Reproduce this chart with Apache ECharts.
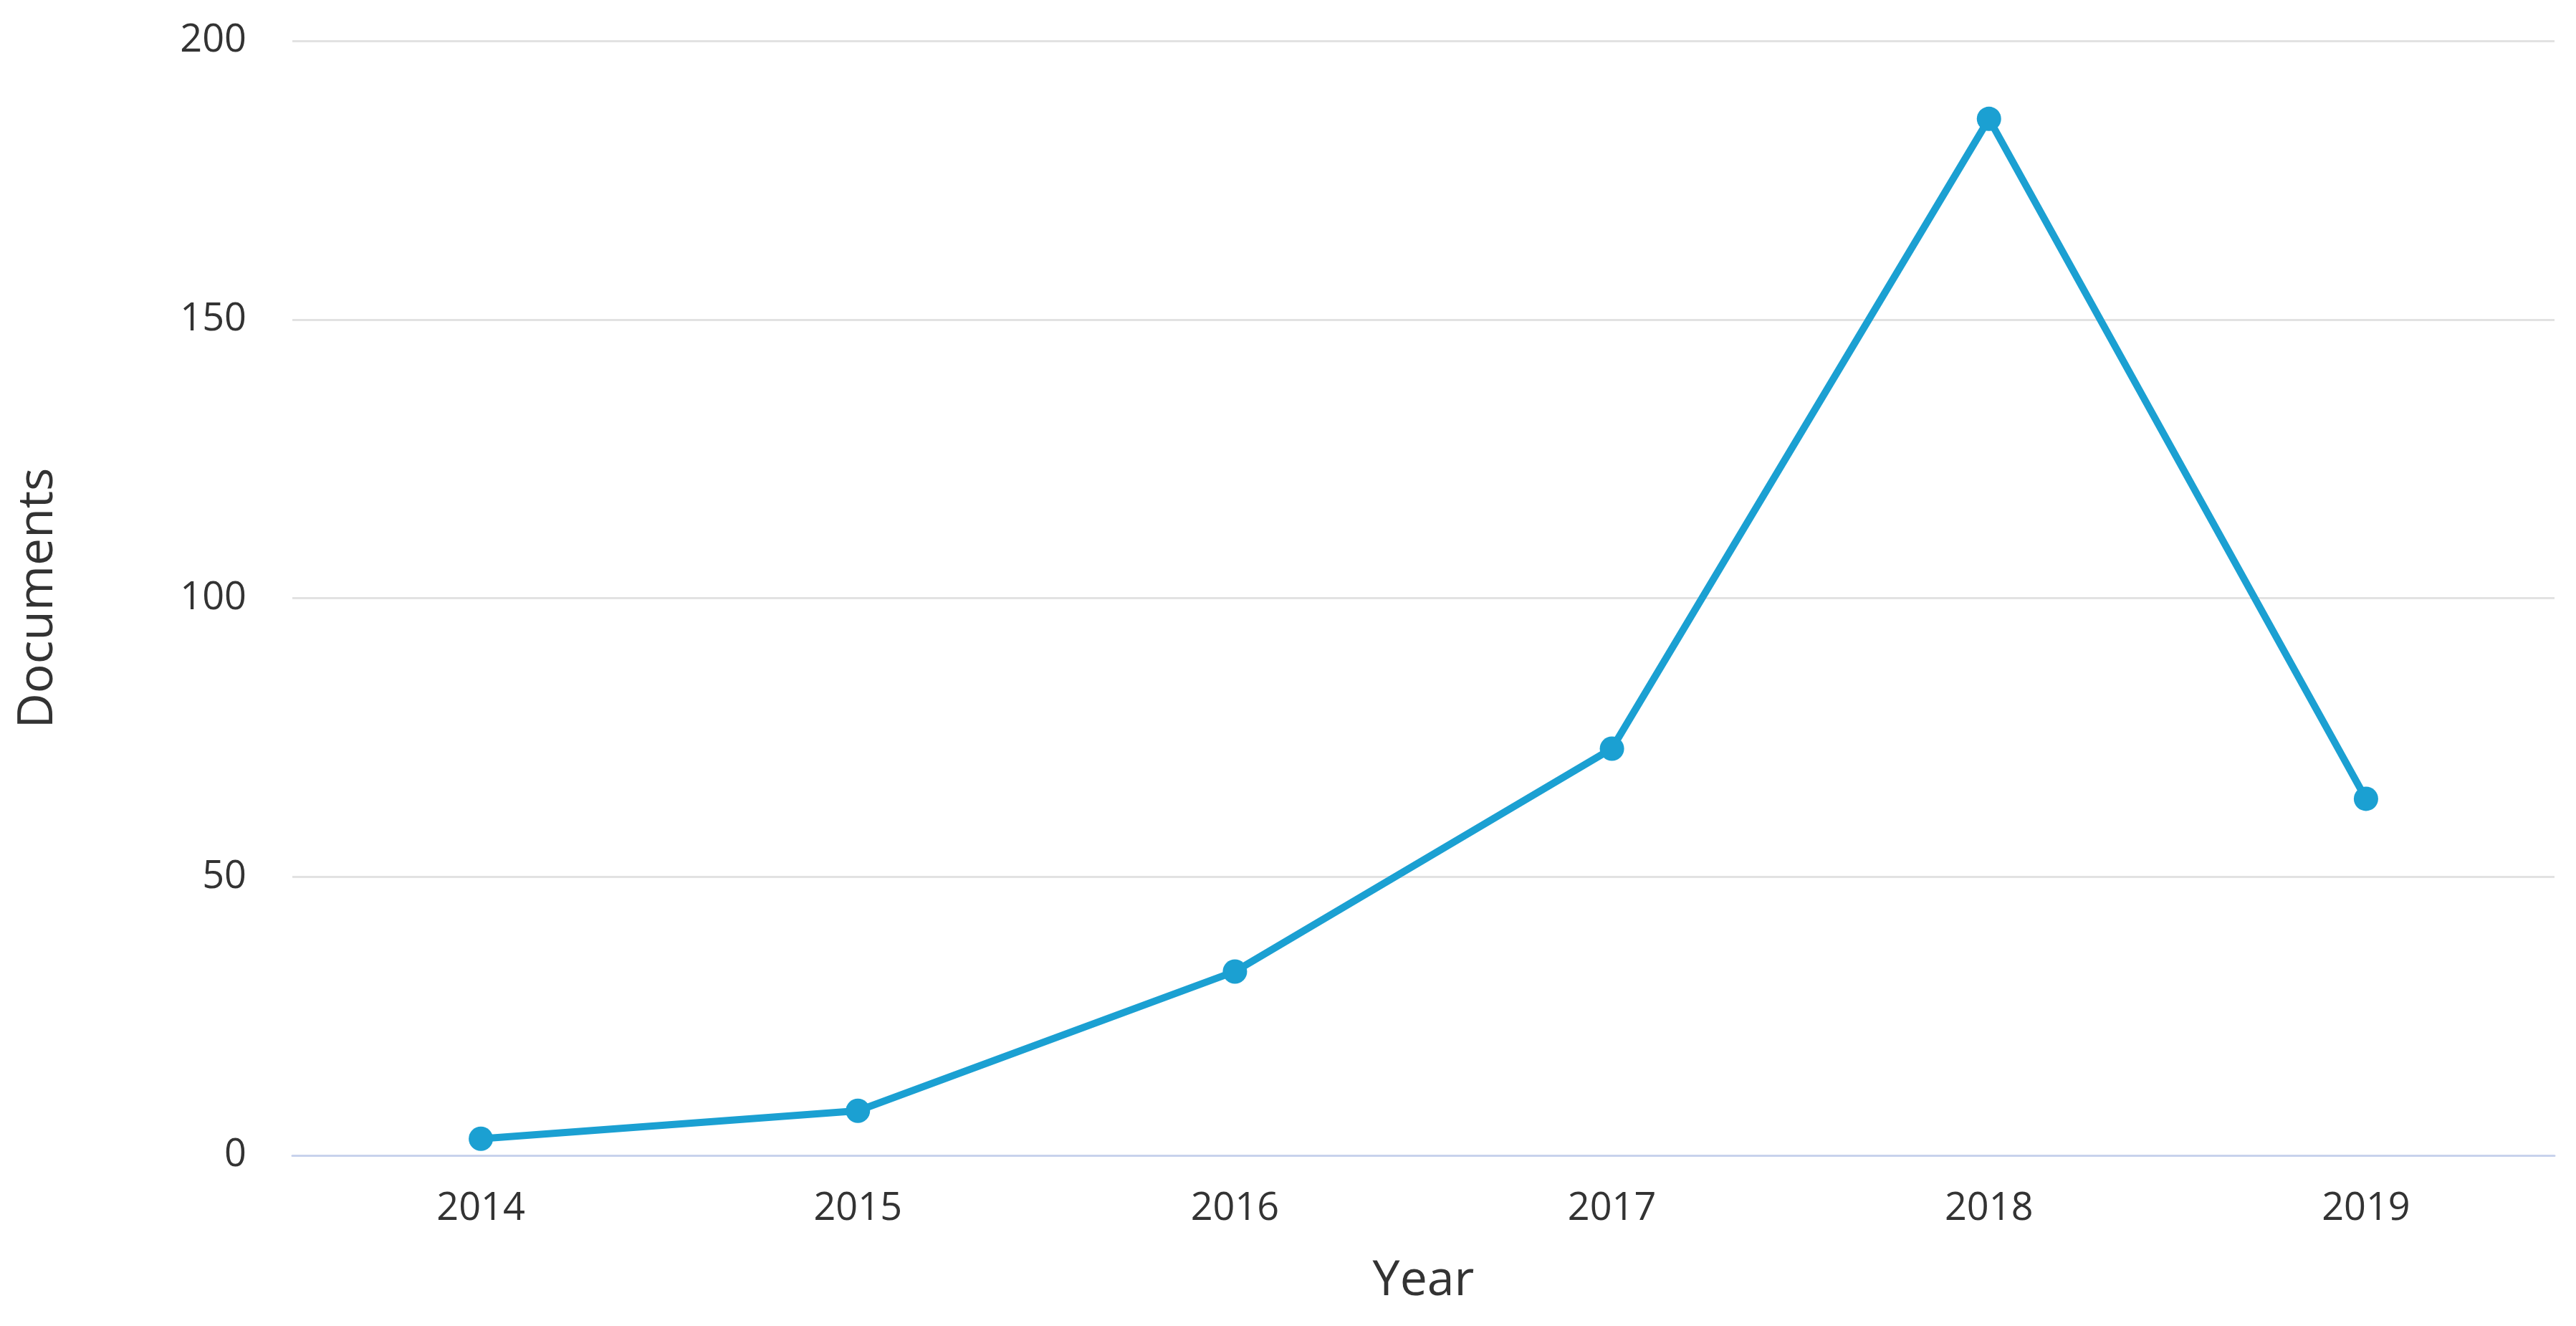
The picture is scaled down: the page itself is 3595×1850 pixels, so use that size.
<!DOCTYPE html>
<html>
<head>
<meta charset="utf-8">
<script src="https://cdn.jsdelivr.net/npm/echarts@6/dist/echarts.min.js"></script>
<style>html,body{margin:0;padding:0;background:#fff}#c{width:3595px;height:1850px}</style>
</head>
<body>
<div id="c"></div>
<script>
const years = ['2014', '2015', '2016', '2017', '2018', '2019'];
const documents = [3, 8, 33, 73, 186, 64];
const yTicks = { min: 0, max: 200, interval: 50 };

const chart = echarts.init(document.getElementById('c'), null, { renderer: 'canvas' });
chart.setOption({
  backgroundColor: '#ffffff',
  animation: false,
  grid: { left: 408, right: 30, top: 57, bottom: 238, containLabel: false },
  xAxis: {
    type: 'category',
    data: years,
    boundaryGap: true,
    name: 'Year',
    nameLocation: 'middle',
    nameGap: 142,
    nameTextStyle: { fontFamily: 'Open Sans', fontSize: 68, color: '#333333' },
    axisLine: { show: true, lineStyle: { color: '#c8d2ec', width: 3 } },
    axisTick: { show: false },
    axisLabel: { fontFamily: 'Open Sans', fontSize: 54, color: '#333333', margin: 48 },
    splitLine: { show: false }
  },
  yAxis: {
    type: 'value',
    min: yTicks.min,
    max: yTicks.max,
    interval: yTicks.interval,
    name: 'Documents',
    nameLocation: 'middle',
    nameGap: 320,
    nameTextStyle: { fontFamily: 'Open Sans', fontSize: 68, color: '#333333' },
    axisLine: { show: false },
    axisTick: { show: false },
    axisLabel: { fontFamily: 'Open Sans', fontSize: 54, color: '#333333', margin: 64, padding: [14, 0, 0, 0] },
    splitLine: { show: true, lineStyle: { color: '#e2e2e2', width: 3 } }
  },
  series: [{
    type: 'line',
    data: documents,
    symbol: 'circle',
    symbolSize: 34,
    lineStyle: { color: '#1ba0d2', width: 10 },
    itemStyle: { color: '#1ba0d2' }
  }]
});
</script>
</body>
</html>
